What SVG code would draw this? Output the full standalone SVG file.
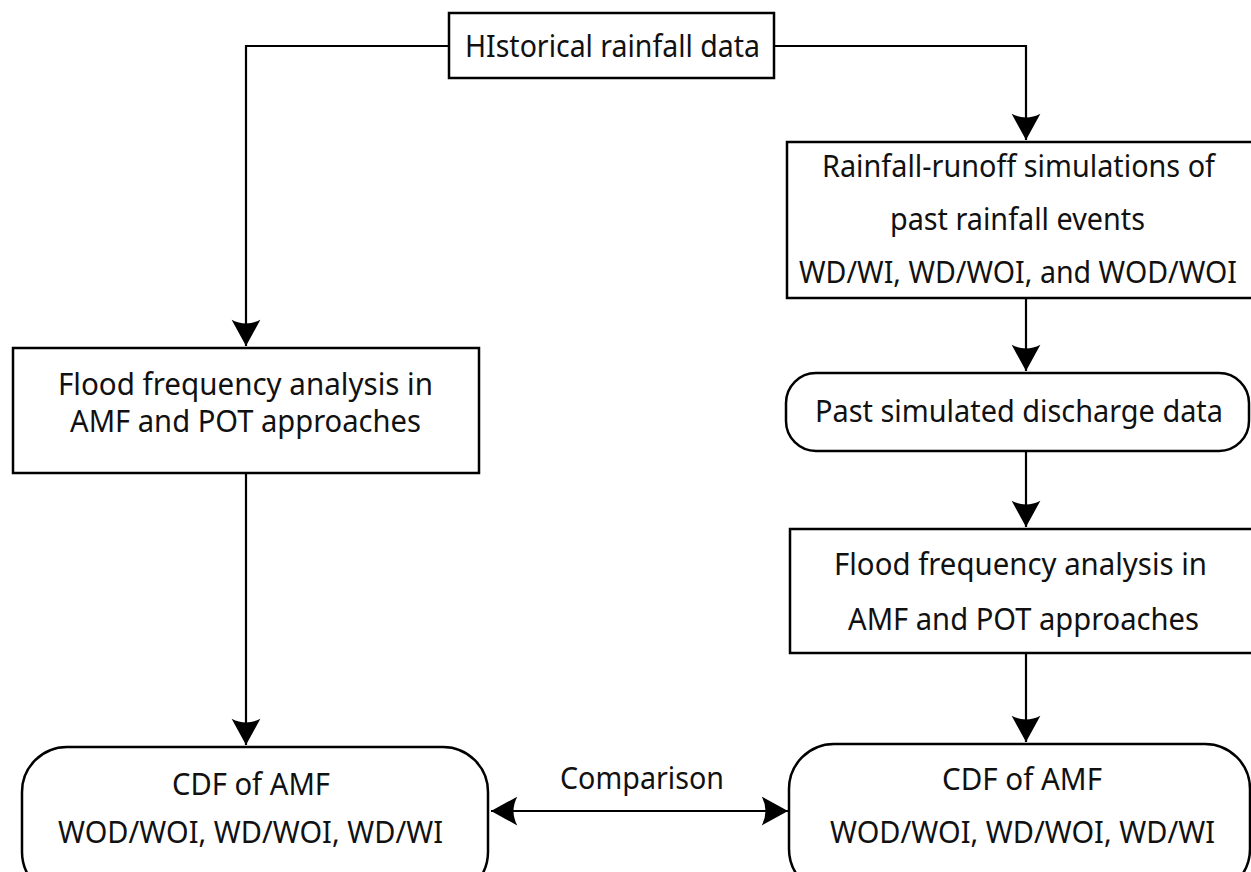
<svg xmlns="http://www.w3.org/2000/svg" width="1251" height="872" viewBox="0 0 1251 872">
<style>
.box{fill:#fff;stroke:#000;stroke-width:2.5}
.t{font-family:"Noto Sans","Open Sans",sans-serif;font-size:30px;fill:#111;text-anchor:middle}
.c{fill:none;stroke:#000;stroke-width:2.2}
</style>
<defs>
<marker id="ah" markerUnits="userSpaceOnUse" markerWidth="30" markerHeight="30" viewBox="-22 -12 24 24" refX="0" refY="0" orient="auto-start-reverse">
<path d="M0,0 L-21,-11.5 Q-15,0 -21,11.5 Z" fill="#000"/>
</marker>
</defs>
<rect width="1251" height="872" fill="#fff"/>
<g id="connectors">
<path class="c" d="M449,46 H246 V346" marker-end="url(#ah)"/>
<path class="c" d="M774,46 H1026 V140" marker-end="url(#ah)"/>
<path class="c" d="M1026,298 V371" marker-end="url(#ah)"/>
<path class="c" d="M1026,451 V527" marker-end="url(#ah)"/>
<path class="c" d="M246,473 V745" marker-end="url(#ah)"/>
<path class="c" d="M1026,653 V742" marker-end="url(#ah)"/>
<path class="c" d="M491,811 H788" marker-start="url(#ah)" marker-end="url(#ah)"/>
<text class="t" x="642" y="789" textLength="164" lengthAdjust="spacingAndGlyphs">Comparison</text>
</g>
<g id="historical">
<rect class="box" x="449" y="13" width="325" height="65"/>
<text class="t" x="612.5" y="57" textLength="295" lengthAdjust="spacingAndGlyphs">HIstorical rainfall data</text>
</g>
<g id="ffa-left">
<rect class="box" x="13" y="348" width="466" height="125"/>
<text class="t" x="245.5" y="395" textLength="375" lengthAdjust="spacingAndGlyphs">Flood frequency analysis in</text>
<text class="t" x="245.5" y="432" textLength="351" lengthAdjust="spacingAndGlyphs">AMF and POT approaches</text>
</g>
<g id="rr-sim">
<rect class="box" x="787" y="142" width="480" height="156"/>
<text class="t" x="1018.5" y="177" textLength="393" lengthAdjust="spacingAndGlyphs">Rainfall-runoff simulations of</text>
<text class="t" x="1017.5" y="230" textLength="255" lengthAdjust="spacingAndGlyphs">past rainfall events</text>
<text class="t" x="1018" y="283" textLength="438" lengthAdjust="spacingAndGlyphs">WD/WI, WD/WOI, and WOD/WOI</text>
</g>
<g id="past-discharge">
<rect class="box" x="786" y="373" width="463" height="78" rx="30" ry="30"/>
<text class="t" x="1019" y="422" textLength="408" lengthAdjust="spacingAndGlyphs">Past simulated discharge data</text>
</g>
<g id="ffa-right">
<rect class="box" x="790" y="529" width="480" height="124"/>
<text class="t" x="1020.5" y="575" textLength="373" lengthAdjust="spacingAndGlyphs">Flood frequency analysis in</text>
<text class="t" x="1023.5" y="630" textLength="351" lengthAdjust="spacingAndGlyphs">AMF and POT approaches</text>
</g>
<g id="cdf-left">
<rect class="box" x="22" y="747" width="466" height="150" rx="45" ry="45"/>
<text class="t" x="251" y="795" textLength="158" lengthAdjust="spacingAndGlyphs">CDF of AMF</text>
<text class="t" x="250.5" y="843" textLength="385" lengthAdjust="spacingAndGlyphs">WOD/WOI, WD/WOI, WD/WI</text>
</g>
<g id="cdf-right">
<rect class="box" x="789" y="744" width="461" height="150" rx="45" ry="45"/>
<text class="t" x="1022" y="790" textLength="160" lengthAdjust="spacingAndGlyphs">CDF of AMF</text>
<text class="t" x="1022.5" y="843" textLength="385" lengthAdjust="spacingAndGlyphs">WOD/WOI, WD/WOI, WD/WI</text>
</g>
</svg>
